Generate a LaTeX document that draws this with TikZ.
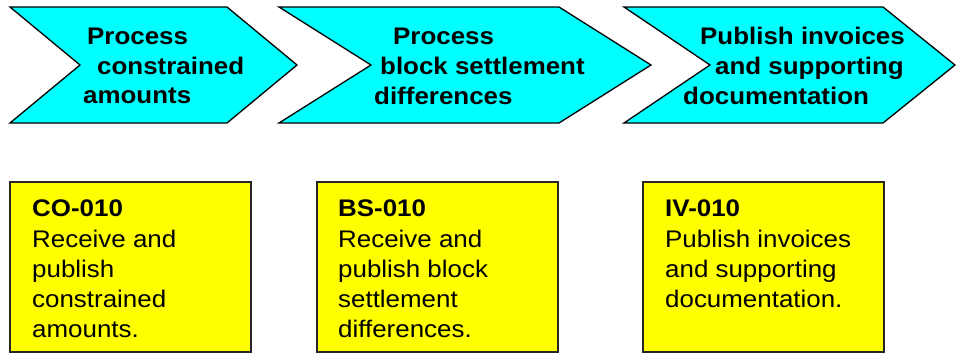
\documentclass[tikz,border=0pt]{standalone}
\usepackage{fontspec}
\setmainfont{Liberation Sans}[FakeStretch=1.08]
\definecolor{chevcyan}{RGB}{0,255,255}
\definecolor{boxyellow}{RGB}{255,255,0}
\tikzset{
  chev/.style={draw=black, fill=chevcyan, line width=1.3pt, line join=miter},
  taskbox/.style={draw=black!85, fill=boxyellow, line width=1.5pt},
  chevtxt/.style={anchor=base west, inner sep=0pt, font=\fontsize{24}{29}\selectfont\bfseries},
  boxtxt/.style={anchor=base west, inner sep=0pt, font=\fontsize{24}{30}\selectfont},
  boxid/.style={anchor=base west, inner sep=0pt, font=\fontsize{24}{30}\selectfont\bfseries}
}
\begin{document}
\begin{tikzpicture}[x=1pt,y=-1pt]
\useasboundingbox (0,0) rectangle (956,354);
% chevrons
\draw[chev] (10,7) -- (227,7) -- (297,65) -- (227,123) -- (10,123) -- (80,65) -- cycle;
\draw[chev] (279,7) -- (559,7) -- (651,65) -- (559,123) -- (279,123) -- (371,65) -- cycle;
\draw[chev] (624,7) -- (883,7) -- (955,65) -- (883,123) -- (624,123) -- (710,65) -- cycle;
% chevron texts
\node[chevtxt] (c1a) at (87,44) {Process};
\node[chevtxt] (c1b) at (97,74) {constrained};
\node[chevtxt] (c1c) at (83,103) {amounts};
\node[chevtxt] (c2a) at (393,44) {Process};
\node[chevtxt] (c2b) at (380,74) {block settlement};
\node[chevtxt] (c2c) at (374,104) {differences};
\node[chevtxt] (c3a) at (700,44) {Publish invoices};
\node[chevtxt] (c3b) at (715,74) {and supporting};
\node[chevtxt] (c3c) at (683,104) {documentation};
% boxes
\draw[taskbox] (10,182) rectangle (251,352);
\draw[taskbox] (317,182) rectangle (558,352);
\draw[taskbox] (643,182) rectangle (884,352);
% box texts
\node[boxid]  (b1a) at (32,216) {CO-010};
\node[boxtxt] (b1b) at (32,247) {Receive and};
\node[boxtxt] (b1c) at (32,277) {publish};
\node[boxtxt] (b1d) at (32,307) {constrained};
\node[boxtxt] (b1e) at (32,337) {amounts.};
\node[boxid]  (b2a) at (338,216) {BS-010};
\node[boxtxt] (b2b) at (338,247) {Receive and};
\node[boxtxt] (b2c) at (338,277) {publish block};
\node[boxtxt] (b2d) at (338,307) {settlement};
\node[boxtxt] (b2e) at (338,337) {differences.};
\node[boxid]  (b3a) at (665,216) {IV-010};
\node[boxtxt] (b3b) at (665,247) {Publish invoices};
\node[boxtxt] (b3c) at (665,277) {and supporting};
\node[boxtxt] (b3d) at (665,307) {documentation.};
\end{tikzpicture}
\end{document}
